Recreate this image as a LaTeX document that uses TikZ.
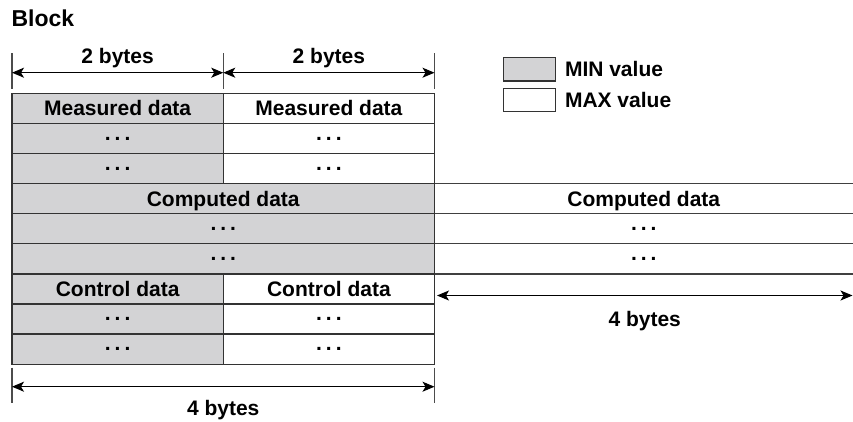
\documentclass[tikz,border=0pt]{standalone}
\usepackage{fontspec}
\setmainfont{Liberation Sans}
\usetikzlibrary{positioning}
\usetikzlibrary{arrows.meta}
\definecolor{mingray}{RGB}{211,211,213}
\newcommand{\rowdots}{.\hspace{4pt}.\hspace{4pt}.}

\begin{document}
\begin{tikzpicture}[
		x=1pt, y=-1pt,
		every node/.style = {font=\fontsize{21}{25}\selectfont\bfseries, inner sep=0, outer sep=0},
		word/.style = {text height=15pt, text depth=0pt},
		cell/.style = {rectangle, draw=black!80, line width=1.3pt, minimum height=30.1},
		minc/.style = {cell, fill=mingray, minimum width=211.25},
		maxc/.style = {cell, fill=white, minimum width=211.25},
		wide/.style = {cell, fill=mingray, minimum width=422.5},
		open/.style = {rectangle, minimum width=418.5, minimum height=30.1},
		key/.style = {rectangle, draw=black!80, line width=1.3pt, minimum width=52.4, minimum height=23.3},
		grid/.style = {draw=black!75, line width=1.3pt},
		tick/.style = {draw=black!70, line width=1.3pt},
		dim/.style = {<->, >={Stealth[length=12pt, width=10pt, inset=3pt]}, line width=1pt}
		]
		\useasboundingbox (0,0) rectangle (853,421);
		
		%Title and legend
		\node[word, anchor=west, font=\fontsize{23}{27}\selectfont\bfseries, text height=16.4pt]	(title)	at	(11.5, 18.3)	{Block};
		\node[key, fill=mingray]	(minkey)	at	(529.5, 69.4)	{};
		\node[key, fill=white, below=7.3pt of minkey]	(maxkey)	{};
		\node[word, right=9.3pt of minkey]	(minlbl)	{MIN value};
		\node[word, right=9.3pt of maxkey]	(maxlbl)	{MAX value};
		
		%Table
		\node[minc, word]	(meas1)	at	(117.625, 108.35)	{Measured data};
		\node[maxc, word]	(meas2)	at	(328.875, 108.35)	{Measured data};
		\node[minc]	(meas3)	at	(117.625, 138.45)	{\rowdots};
		\node[maxc]	(meas4)	at	(328.875, 138.45)	{\rowdots};
		\node[minc]	(meas5)	at	(117.625, 168.55)	{\rowdots};
		\node[maxc]	(meas6)	at	(328.875, 168.55)	{\rowdots};
		
		\node[wide, word]	(comp1)	at	(223.25, 198.65)	{Computed data};
		\node[wide]	(comp2)	at	(223.25, 228.75)	{\rowdots};
		\node[wide]	(comp3)	at	(223.25, 258.85)	{\rowdots};
		\node[open, word]	(comp4)	at	(643.75, 198.65)	{Computed data};
		\node[open]	(comp5)	at	(643.75, 228.75)	{\rowdots};
		\node[open]	(comp6)	at	(643.75, 258.85)	{\rowdots};
		
		\node[minc, word]	(ctrl1)	at	(117.625, 288.95)	{Control data};
		\node[maxc, word]	(ctrl2)	at	(328.875, 288.95)	{Control data};
		\node[minc]	(ctrl3)	at	(117.625, 319.05)	{\rowdots};
		\node[maxc]	(ctrl4)	at	(328.875, 319.05)	{\rowdots};
		\node[minc]	(ctrl5)	at	(117.625, 349.15)	{\rowdots};
		\node[maxc]	(ctrl6)	at	(328.875, 349.15)	{\rowdots};
		
		%Open rows on the right
		\draw[grid]	(comp4.north west)	--	(comp4.north east);
		\draw[grid]	(comp4.south west)	--	(comp4.south east);
		\draw[grid]	(comp5.south west)	--	(comp5.south east);
		\draw[grid]	(comp6.south west)	--	(comp6.south east);
		
		%Dimension lines
		\coordinate	(top1)	at	(12, 72.7);
		\coordinate	(top2)	at	(223.25, 72.7);
		\coordinate	(top3)	at	(434.5, 72.7);
		\coordinate	(bot1)	at	(12, 386.7);
		\coordinate	(bot2)	at	(434.5, 386.7);
		\coordinate	(side1)	at	(437, 295.5);
		\coordinate	(side2)	at	(852.5, 295.5);
		
		\draw[tick]	([yshift=19.7pt]top1)	--	([yshift=-16.3pt]top1);
		\draw[tick]	([yshift=19.7pt]top2)	--	([yshift=-16.3pt]top2);
		\draw[tick]	([yshift=19.7pt]top3)	--	([yshift=-16.3pt]top3);
		\draw[tick]	([yshift=19pt]bot1)	--	([yshift=-16.3pt]bot1);
		\draw[tick]	([yshift=19pt]bot2)	--	([yshift=-16.3pt]bot2);
		
		\draw[dim]	(top1)	--	node[word, above=9.4pt]	{2 bytes}	(top2);
		\draw[dim]	(top2)	--	node[word, above=9.4pt]	{2 bytes}	(top3);
		\draw[dim]	(bot1)	--	node[word, below=13.3pt]	{4 bytes}	(bot2);
		\draw[dim]	(side1)	--	node[word, below=16pt]	{4 bytes}	(side2);
	\end{tikzpicture}
\end{document}
